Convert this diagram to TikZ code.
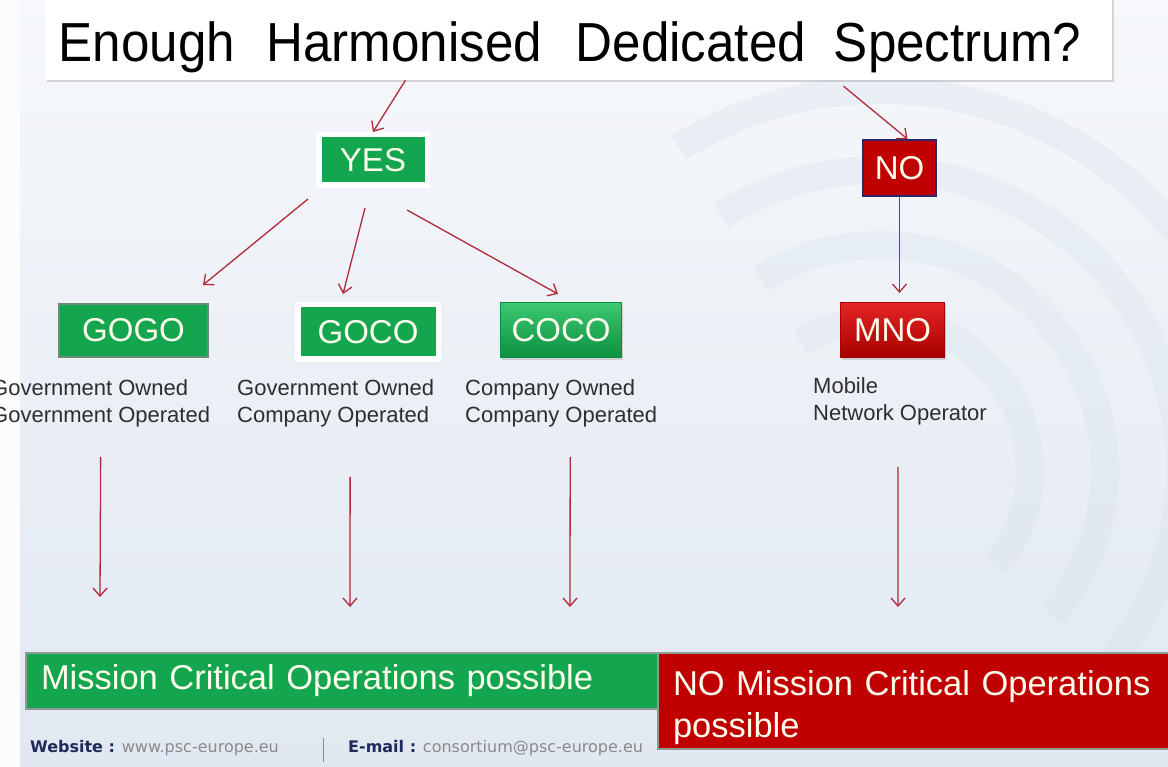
\documentclass[tikz,border=0pt]{standalone}
\usepackage{fontspec}
\setmainfont{Liberation Sans}
\newfontfamily\footfont{DejaVu Sans}
\usetikzlibrary{arrows.meta,shadows,calc}
\definecolor{bgtop}{HTML}{F6F8FB}
\definecolor{bgbot}{HTML}{E1E8F1}
\definecolor{arcc}{HTML}{D3DDE9}
\definecolor{grn}{HTML}{13A64F}
\definecolor{grnlt}{HTML}{3CC870}
\definecolor{grndk}{HTML}{0C9040}
\definecolor{gogob}{HTML}{6E8A78}
\definecolor{rd}{HTML}{C00000}
\definecolor{rdlt}{HTML}{E32525}
\definecolor{rddk}{HTML}{A80000}
\definecolor{nob}{HTML}{2B2B6B}
\definecolor{barb}{HTML}{8E9A94}
\definecolor{arr}{HTML}{B22A3A}
\definecolor{txtw}{HTML}{FFFCEE}
\definecolor{lbl}{HTML}{2E2E2E}
\definecolor{navy}{HTML}{1E2A5A}
\definecolor{ftgrey}{HTML}{8A8A8A}
\tikzset{
  flow/.style={draw=arr, line width=1.3pt, -{Straight Barb[length=8pt,width=14pt]}},
  boxtxt/.style={text=txtw, font=\fontsize{33}{36}\selectfont, inner sep=0pt},
  softshadow/.style={drop shadow={shadow xshift=1.5pt, shadow yshift=-2.5pt, opacity=0.3}},
  framed/.style={boxtxt, fill=grn, draw=white, line width=5.5pt, softshadow},
  lbltxt/.style={anchor=north west, align=left, inner sep=0pt, text=lbl, font=\fontsize{22}{27}\selectfont},
  bigtxt/.style={text=txtw, font=\fontsize{34.5}{42}\selectfont, align=left, inner ysep=0pt},
  arcst/.style={draw=arcc, line width=28pt, opacity=0.25},
  foot/.style={anchor=base west, inner sep=0pt, font=\footfont\fontsize{16}{18}\selectfont}
}
\begin{document}
\begin{tikzpicture}[x=1pt,y=-1pt]
\useasboundingbox (0,0) rectangle (1168,767);
\clip (0,0) rectangle (1168,767);
\shade[top color=bgtop, bottom color=bgbot] (0,0) rectangle (1168,767);
\fill[white!60!bgtop] (0,0) rectangle (20,767);
% background arcs
\coordinate (ac) at (880,470);
\foreach \r in {150,225,300,380}
  \draw[arcst] (ac) ++(-122:\r) arc[start angle=-122, end angle=40, radius=\r];

% title
\node[fill=white, minimum width=1067pt, minimum height=86pt, inner sep=0pt, softshadow] (q) at (578.5,37) {};
\node[anchor=base, inner sep=0pt] (qt) at (570,62)
  {\scalebox{0.93}[1]{\fontsize{55}{58}\selectfont Enough\hspace{34pt}Harmonised\hspace{36pt}Dedicated\hspace{30pt}Spectrum?}};

% decision boxes
\node[framed, minimum width=108.5pt, minimum height=50.5pt] (yes) at (373,160) {YES};
\node[boxtxt, fill=rd, draw=nob, line width=2pt, minimum width=73pt, minimum height=56pt] (no) at (899.5,168) {NO};

\node[boxtxt, fill=grn, draw=gogob, line width=2pt, minimum width=149pt, minimum height=53pt] (gogo) at (133.5,330.5) {GOGO};
\node[framed, minimum width=140.5pt, minimum height=54.5pt] (goco) at (368,332) {GOCO};
\node[boxtxt, top color=grnlt, bottom color=grndk, draw=grndk, line width=1pt, minimum width=121pt, minimum height=55pt, softshadow] (coco) at (561,330) {COCO};
\node[boxtxt, top color=rdlt, bottom color=rddk, draw=rddk, line width=1pt, minimum width=104pt, minimum height=55pt, softshadow] (mno) at (892.5,330) {MNO};

% labels
\node[lbltxt] (lgogo) at (-9,379) {Government Owned\\Government Operated};
\node[lbltxt] (lgoco) at (237,379) {Government Owned\\Company Operated};
\node[lbltxt] (lcoco) at (465,379) {Company Owned\\Company Operated};
\node[lbltxt] (lmno) at (813,377) {Mobile\\Network Operator};

% outcome bars
\node[bigtxt, fill=grn, draw=barb, line width=2pt, anchor=north west, minimum height=56pt, text width=602pt, inner xsep=15pt] (ok) at (25,652) {Mission Critical Operations possible};
\node[bigtxt, fill=rd, draw=barb, line width=2pt, anchor=north west, minimum height=96pt, text width=500pt, inner xsep=15pt] (nok) at (657,652) {\rule{0pt}{39pt}NO Mission Critical Operations\\possible};

% footer
\node[foot] (web) at (30,752) {\textcolor{navy}{\bfseries Website :} \textcolor{ftgrey}{www.psc-europe.eu}};
\node[foot] (mail) at (348,752) {\textcolor{navy}{\bfseries E-mail :} \textcolor{ftgrey}{consortium@psc-europe.eu}};
\draw[ftgrey, line width=1pt] (323,738) -- (323,762);

% connectors
\draw[flow] ($(q.south)+(-173,0)$) -- (yes.north);
\draw[flow] ($(q.south)+(265,6)$) -- ($(no.north)+(8,0)$);
\draw[flow] ($(yes.south west)+(-8,11)$) -- ($(gogo.north east)+(-6,-18)$);
\draw[flow] ($(yes.south)+(-8,20)$) -- ($(goco.north)+(-25,-8)$);
\draw[flow] ($(yes.south)+(34,22)$) -- ($(coco.north)+(-3,-8)$);
\draw[flow] (no.south) -- ($(mno.north)+(7,-9)$);

\draw[flow] ($(lgogo.south)+(0,30)$) -- ($(ok.north west)+(75,-55)$);
\draw[flow] ($(lgoco.south)+(14.5,50)$) -- ($(ok.north west)+(325,-45)$);
\draw[flow] ($(lcoco.south)+(9,30)$) -- ($(ok.north west)+(545,-45)$);
\draw[flow] ($(lmno.south)+(-2,42)$) -- ($(nok.north west)+(241,-45)$);
\end{tikzpicture}
\end{document}
